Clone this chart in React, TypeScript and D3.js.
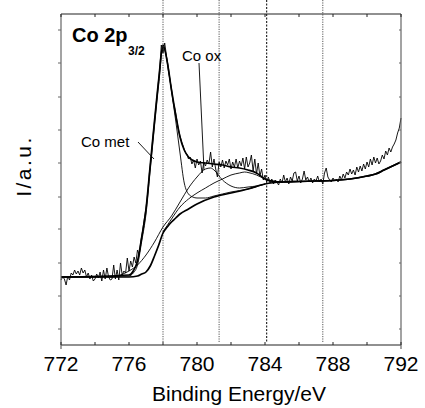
import React from 'react';
import * as d3 from 'd3';

const W = 425;
const H = 408;
const PLOT = { left: 61, right: 401, top: 14, bottom: 345 };

// axis ticks
const xTickLabels = [772, 776, 780, 784, 788, 792];
const xMinorTicks = [774, 778, 782, 786, 790];
const yTickValues = [16, 49, 82, 116, 148, 182, 215, 248, 282, 315];
const refLines = [778.0, 781.3, 784.1, 787.4];

// measured spectrum, 0.1 eV steps from 772.0 to 792.0 (intensity, a.u.)
const E_START = 772;
const E_STEP = 0.1;
const spectrum = [
  65, 68, 66, 60, 69, 65, 72, 70, 75, 71,
  74, 70, 77, 72, 75, 68, 72, 66, 70, 64,
  66, 71, 67, 73, 64, 75, 66, 77, 68, 65,
  66, 80, 66, 75, 65, 82, 70, 74, 72, 87,
  74, 84, 78, 88, 82, 95, 90, 104, 114, 126,
  137, 152, 172, 188, 207, 224, 241, 258, 275, 300,
  292, 302, 290, 276, 266, 256, 244, 236, 226, 216,
  209, 203, 198, 193, 191, 186, 188, 181, 185, 177,
  186, 180, 184, 172, 183, 179, 185, 181, 193, 178,
  186, 176, 168, 183, 178, 185, 177, 184, 180, 186,
  176, 183, 178, 186, 177, 184, 179, 187, 176, 188,
  178, 182, 190, 174, 186, 171, 182, 169, 176, 165,
  170, 163, 168, 162, 166, 161, 165, 163, 160, 166,
  162, 170, 163, 167, 161, 168, 164, 172, 173, 164,
  169, 162, 166, 174, 165, 168, 163, 167, 162, 166,
  164, 169, 163, 166, 161, 172, 177, 168, 165, 163,
  167, 164, 166, 163, 169, 165, 171, 167, 173, 170,
  176, 171, 175, 170, 178, 173, 179, 174, 181, 176,
  183, 178, 186, 180, 188, 182, 187, 181, 184, 190,
  186, 194, 190, 197, 193, 198, 201, 205, 212, 217,
  227,
];

// Shirley background
const bgE = [772, 776, 776.5, 776.75, 777, 777.25, 777.5, 777.75, 778, 778.25, 778.5, 778.75, 779, 779.5, 780, 781, 782, 783, 784, 785, 786, 787, 788, 789, 790, 790.5, 791, 791.5, 792];
const bgH = [68, 68, 69, 71, 73, 79, 89, 100, 112, 118, 123, 127, 131, 136, 141, 148, 152, 156, 161, 163, 163.5, 164, 164.5, 166, 169, 171, 175, 179, 183];

// fit envelope
const envE = [772, 776, 776.25, 776.5, 776.75, 777, 777.25, 777.5, 777.75, 778, 778.25, 778.5, 778.75, 779, 779.25, 779.5, 780, 780.5, 781, 781.5, 782, 782.5, 783, 783.5, 784, 784.5, 785, 786, 787, 788, 789, 790, 790.5, 791, 791.5, 792];
const envH = [68, 70, 74, 84, 108, 136, 180, 224, 266, 300, 283, 255, 230, 208, 195, 188, 183, 182, 181, 180, 178, 177, 175, 172, 166, 163.5, 163, 163.5, 164, 164.5, 166, 169, 171, 175, 179, 183];

// Co met component
const metE = [772, 776, 776.25, 776.5, 776.75, 777, 777.25, 777.5, 777.75, 778, 778.25, 778.5, 778.75, 779, 779.25, 779.5, 779.75, 780, 780.5, 781, 782, 783, 784];
const metH = [68, 69, 72, 80, 104, 131, 175, 219, 261, 298, 284, 254, 224, 192, 162, 151, 148, 147, 147, 149, 153, 156, 161];

// Co ox component
const oxE = [772, 775, 775.5, 776, 776.5, 777, 777.5, 778, 778.5, 779, 779.5, 780, 780.5, 780.8, 781, 781.5, 782, 782.5, 783, 783.5, 784];
const oxH = [68, 68, 70, 74, 80, 90, 103, 118, 129, 143, 157, 168, 176, 177, 175, 165, 159, 157, 158, 159, 161];

// satellite component
const satE = [778, 778.5, 779, 779.5, 780, 780.5, 781, 781.5, 782, 782.5, 782.8, 783, 783.5, 784, 784.5, 785];
const satH = [113, 126, 138, 146, 152, 157, 162, 166, 170, 172, 173, 172.5, 170, 166, 164, 163];

const FONT = "'Liberation Sans', Arial, Helvetica, sans-serif";

export default function App() {
  const x = d3.scaleLinear().domain([772, 792]).range([PLOT.left, PLOT.right]);
  const y = d3.scaleLinear().domain([0, 331]).range([PLOT.bottom, PLOT.top]);

  const pts = (es: number[], hs: number[]) => es.map((e, i) => [e, hs[i]] as [number, number]);
  const smooth = d3
    .line<[number, number]>()
    .x((d) => x(d[0]))
    .y((d) => y(d[1]))
    .curve(d3.curveMonotoneX);
  const raw = d3
    .line<number>()
    .x((_, i) => x(E_START + i * E_STEP))
    .y((d) => y(d));

  const allX = [...xTickLabels, ...xMinorTicks];

  return (
    <svg
      width={W}
      height={H}
      viewBox={`0 0 ${W} ${H}`}
      style={{ position: 'absolute', left: 0, top: 0, background: '#fff' }}
      fontFamily={FONT}
    >
      <rect width={W} height={H} fill="#fff" />
      {/* reference dotted lines */}
      {refLines.map((e, i) => (
        <line
          key={e}
          x1={x(e)}
          x2={x(e)}
          y1={0}
          y2={PLOT.bottom - 2}
          stroke={i === 2 ? '#000' : '#555'}
          strokeWidth={1}
          strokeDasharray={i === 2 ? '2 1.5' : '1.2 1.2'}
        />
      ))}

      {/* curves */}
      <path d={smooth(pts(satE, satH)) || ''} fill="none" stroke="#000" strokeWidth={0.9} />
      <path d={smooth(pts(oxE, oxH)) || ''} fill="none" stroke="#000" strokeWidth={0.9} />
      <path d={smooth(pts(metE, metH)) || ''} fill="none" stroke="#000" strokeWidth={0.9} />
      <path d={raw(spectrum) || ''} fill="none" stroke="#000" strokeWidth={0.9} strokeLinejoin="miter" />
      <path d={smooth(pts(envE, envH)) || ''} fill="none" stroke="#000" strokeWidth={1.7} />
      <path d={smooth(pts(bgE, bgH)) || ''} fill="none" stroke="#000" strokeWidth={1.7} />

      {/* frame */}
      <line x1={PLOT.left} x2={PLOT.right} y1={PLOT.top} y2={PLOT.top} stroke="#222" strokeWidth={1.2} />
      <line x1={PLOT.left} x2={PLOT.right} y1={PLOT.bottom} y2={PLOT.bottom} stroke="#222" strokeWidth={1.2} />
      <line x1={PLOT.left} x2={PLOT.left} y1={PLOT.top} y2={PLOT.bottom + 4} stroke="#666" strokeWidth={1.2} />
      <line x1={PLOT.right} x2={PLOT.right} y1={PLOT.top} y2={PLOT.bottom + 4} stroke="#666" strokeWidth={1.2} />

      {/* x ticks bottom & top */}
      {allX.map((t) => (
        <g key={t}>
          <line x1={x(t)} x2={x(t)} y1={PLOT.bottom} y2={PLOT.bottom - 3} stroke="#222" />
          <line x1={x(t)} x2={x(t)} y1={PLOT.top} y2={PLOT.top + 3} stroke="#222" />
        </g>
      ))}
      {xTickLabels.map((t) => (
        <text key={t} x={x(t)} y={371} fontSize={21} textAnchor="middle" fill="#000">
          {t}
        </text>
      ))}

      {/* y ticks */}
      {yTickValues.map((v) => (
        <g key={v}>
          <line x1={PLOT.left - 3} x2={PLOT.left} y1={y(v)} y2={y(v)} stroke="#666" />
          <line x1={PLOT.right - 2} x2={PLOT.right} y1={y(v)} y2={y(v)} stroke="#666" />
        </g>
      ))}

      {/* axis titles */}
      <text x={239} y={401} fontSize={21} textAnchor="middle" fill="#000">
        Binding Energy/eV
      </text>
      <text
        transform="translate(31,166) rotate(-90)"
        fontSize={21}
        letterSpacing={2.5}
        textAnchor="middle"
        fill="#000"
      >
        I/a.u.
      </text>

      {/* title */}
      <text x={72} y={42} fontSize={20} fontWeight="bold" fill="#000">
        Co 2p
      </text>
      <text x={128} y={55} fontSize={12} fontWeight="bold" fill="#000">
        3/2
      </text>

      {/* annotations */}
      <text x={81} y={147} fontSize={15} fill="#000">
        Co met
      </text>
      <line x1={138} y1={142} x2={154} y2={159} stroke="#000" strokeWidth={0.9} />
      <text x={182} y={61} fontSize={15} fill="#000">
        Co ox
      </text>
      <line x1={199} y1={63} x2={204} y2={170} stroke="#000" strokeWidth={0.9} />
    </svg>
  );
}
